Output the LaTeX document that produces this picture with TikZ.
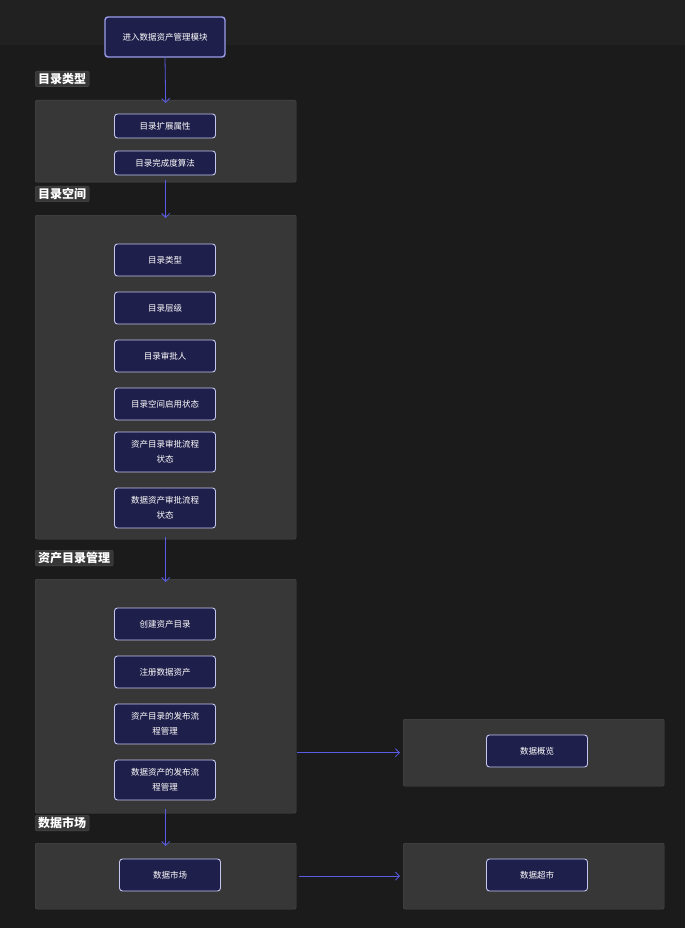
\documentclass[tikz,border=0pt]{standalone}
\usepackage{fontspec}
\setmainfont{Noto Sans CJK SC}
\usetikzlibrary{arrows.meta}
\definecolor{bgcol}{HTML}{1B1B1B}
\definecolor{bandcol}{HTML}{212121}
\definecolor{grpfill}{HTML}{373737}
\definecolor{grpline}{HTML}{4C4C4C}
\definecolor{boxfill}{HTML}{1F1F4B}
\definecolor{boxline}{HTML}{C4C6F0}
\definecolor{arrowcol}{HTML}{5A5CE6}
\begin{document}
\begin{tikzpicture}[x=1pt,y=-1pt]
	\tikzset{
		grp/.style={draw=grpline,fill=grpfill,rounded corners=2pt,anchor=north west,inner sep=0pt},
		grplabel/.style={fill=grpfill,draw=grpline,rounded corners=2pt,text=white,font=\bfseries\fontsize{12}{14}\selectfont,inner xsep=3pt,inner ysep=2pt,anchor=north west},
		item/.style={draw=boxline,fill=boxfill,rounded corners=3pt,line width=0.9pt,text=white,font=\fontsize{8.5}{15}\selectfont,minimum width=101pt,minimum height=24pt,inner sep=1pt,align=center},
		flow/.style={draw=arrowcol,line width=0.8pt,-{Straight Barb[length=4pt,width=8pt]}}
	}
	\fill [bgcol] (0,0) rectangle (685,928);
	\fill [bandcol] (0,0) rectangle (685,45);
	% groups
	\node [grp,minimum width=261pt,minimum height=82pt] (g1) at (35,100) {};
	\node [grp,minimum width=261pt,minimum height=324pt] (g2) at (35,215) {};
	\node [grp,minimum width=261pt,minimum height=234pt] (g3) at (35,579) {};
	\node [grp,minimum width=261pt,minimum height=66pt] (g4) at (35,843) {};
	\node [grp,minimum width=261pt,minimum height=67pt] (g5) at (403,719) {};
	\node [grp,minimum width=261pt,minimum height=66pt] (g6) at (403,843) {};
	\node [grplabel] (l1) at (35,71) {目录类型};
	\node [grplabel] (l2) at (35,186) {目录空间};
	\node [grplabel] (l3) at (35,550) {资产目录管理};
	\node [grplabel] (l4) at (35,815) {数据市场};
	% start
	\node [item,draw=arrowcol!40!boxline,line width=1.4pt,minimum width=120pt,minimum height=40pt] (start) at (165,37) {进入数据资产管理模块};
	% catalogue type
	\node [item] (ext) at (165,126) {目录扩展属性};
	\node [item] (algo) at (165,163) {目录完成度算法};
	% catalogue space
	\node [item,minimum height=32pt] (ctype) at (165,260) {目录类型};
	\node [item,minimum height=32pt] (level) at (165,308) {目录层级};
	\node [item,minimum height=32pt] (approver) at (165,356) {目录审批人};
	\node [item,minimum height=32pt] (enable) at (165,404) {目录空间启用状态};
	\node [item,minimum height=40pt] (cflow) at (165,452) {资产目录审批流程\\状态};
	\node [item,minimum height=40pt] (dflow) at (165,508) {数据资产审批流程\\状态};
	% asset catalogue
	\node [item,minimum height=32pt] (create) at (165,624) {创建资产目录};
	\node [item,minimum height=32pt] (register) at (165,672) {注册数据资产};
	\node [item,minimum height=40pt] (cpub) at (165,724) {资产目录的发布流\\程管理};
	\node [item,minimum height=40pt] (dpub) at (165,780) {数据资产的发布流\\程管理};
	% market
	\node [item,minimum height=32pt] (market) at (170,875) {数据市场};
	\node [item,minimum height=32pt] (overview) at (537,751) {数据概览};
	\node [item,minimum height=32pt] (super) at (537,875) {数据超市};
	% connectors
	\draw [flow] (start.south) -- ([yshift=-3pt]g1.north);
	\draw [flow] ([yshift=2pt]g1.south) -- ([yshift=-3pt]g2.north);
	\draw [flow] ([yshift=2pt]g2.south) -- ([yshift=-3pt]g3.north);
	\draw [flow] ([yshift=4pt]g3.south) -- ([yshift=-3pt]g4.north);
	\draw [flow] ([xshift=1pt]g3.east |- g5.west) -- ([xshift=-3pt]g5.west);
	\draw [flow] ([xshift=3pt]g4.east) -- ([xshift=-3pt]g6.west);
\end{tikzpicture}
\end{document}
